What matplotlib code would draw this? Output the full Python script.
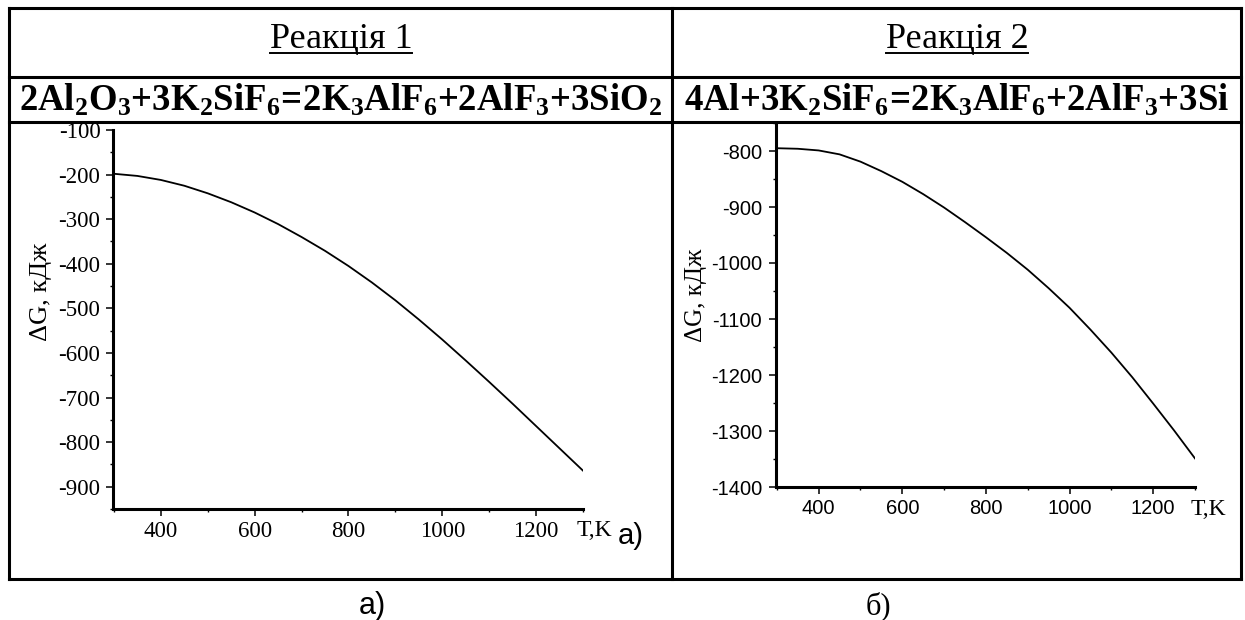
import matplotlib
matplotlib.use("Agg")
import matplotlib.pyplot as plt
from matplotlib.lines import Line2D
from matplotlib.ticker import MultipleLocator

plt.rcParams['axes.unicode_minus'] = False
plt.rcParams['mathtext.fontset'] = 'custom'
plt.rcParams['mathtext.rm'] = 'Liberation Serif'
plt.rcParams['mathtext.bf'] = 'Liberation Serif:bold'
plt.rcParams['mathtext.it'] = 'Liberation Serif:italic'

# ---------------- data ----------------
T = [298, 350, 400, 450, 500, 550, 600, 650, 700, 750, 800, 850, 900, 950,
     1000, 1050, 1100, 1150, 1200, 1250, 1300]
dG1 = [-198, -203, -212, -225, -242, -262, -285, -311, -340, -371, -405,
       -442, -482, -525, -570, -617, -665, -714, -764, -814, -864]
dG2 = [-795, -796, -799, -806, -819, -836, -855, -877, -901, -927, -954,
       -982, -1012, -1045, -1080, -1119, -1160, -1204, -1251, -1299, -1349]

titles = ["Реакція 1", "Реакція 2"]
equations = [
    r"$\mathbf{2Al_2O_3{+}3K_2SiF_6\!=\!2K_3AlF_6{+}2AlF_3{+}3SiO_2}$",
    r"$\mathbf{4Al{+}3K_2SiF_6\!=\!2K_3AlF_6{+}2AlF_3{+}3Si}$",
]
xticks = [400, 600, 800, 1000, 1200]
yticks1 = [-900, -800, -700, -600, -500, -400, -300, -200, -100]
yticks2 = [-1400, -1300, -1200, -1100, -1000, -900, -800]
ylabel = "ΔG, кДж"
xlabel = "T,K"
captions = ["а)", "б)"]

W, H = 1245, 620
fig = plt.figure(figsize=(W / 100, H / 100), dpi=100)


def fx(x):
    return x / W


def fy(y):
    return 1 - y / H


def hline(x0, x1, y, lw=2.2):
    fig.add_artist(Line2D([fx(x0), fx(x1)], [fy(y), fy(y)],
                          transform=fig.transFigure, color='black',
                          lw=lw, solid_capstyle='projecting', zorder=10))


def vline(x, y0, y1, lw=2.2):
    fig.add_artist(Line2D([fx(x), fx(x)], [fy(y0), fy(y1)],
                          transform=fig.transFigure, color='black',
                          lw=lw, solid_capstyle='projecting', zorder=10))


# ---------------- table frame ----------------
L, R, M = 9, 1241, 672
top, r1, r2, bot = 8, 77, 122, 579
for y in (top, r1, r2, bot):
    hline(L, R, y)
for x in (L, M, R):
    vline(x, top, bot)

# ---------------- axes ----------------
serif = 'Liberation Serif'
sans = 'Liberation Sans'
narrow = ['Liberation Sans Narrow', 'Liberation Sans']

ax1 = fig.add_axes([fx(113), fy(509), (583 - 113) / W, (509 - 130) / H])
ax2 = fig.add_axes([fx(776), fy(487), (1195 - 776) / W, (487 - 123) / H])

ax1.plot(T, dG1, color='black', lw=1.3)
ax2.plot(T, dG2, color='black', lw=1.3)

ax1.set_xlim(298, 1300)
ax1.set_ylim(-950, -100)
ax2.set_xlim(298, 1300)
ax2.set_ylim(-1400, -750)

for ax, yt, fam, size, ypad, xpad in ((ax1, yticks1, serif, 16.5, 4, 3.5),
                                      (ax2, yticks2, sans, 14.5, 5, 4)):
    ax.set_xticks(xticks)
    ax.set_yticks(yt)
    ax.xaxis.set_minor_locator(MultipleLocator(100))
    ax.yaxis.set_minor_locator(MultipleLocator(50))
    for s in ('top', 'right'):
        ax.spines[s].set_visible(False)
    for s in ('left', 'bottom'):
        ax.spines[s].set_linewidth(2.2)
    ax.tick_params(which='major', direction='out', length=5, width=1.1,
                   labelsize=size, labelfontfamily=fam)
    ax.tick_params(axis='y', which='major', pad=ypad)
    ax.tick_params(axis='x', which='major', pad=xpad)
    ax.tick_params(which='minor', direction='out', length=2.5, width=1.0)
    ax.patch.set_alpha(0)

# y labels
fig.text(fx(41), fy(292), ylabel, rotation=90, ha='center', va='center',
         fontsize=19, family=serif)
fig.text(fx(696), fy(295), ylabel, rotation=90, ha='center', va='center',
         fontsize=18, family=serif)

# x labels
fig.text(fx(577), fy(536), xlabel, ha='left', va='baseline',
         fontsize=17, family=serif)
fig.text(fx(618), fy(544), captions[0], ha='left', va='baseline',
         fontsize=21, family=narrow)
fig.text(fx(1191), fy(515), xlabel, ha='left', va='baseline',
         fontsize=17, family=serif)

# ---------------- header texts ----------------
fig.canvas.draw()
renderer = fig.canvas.get_renderer()
for xc, title, eq in ((341, titles[0], equations[0]),
                      (957, titles[1], equations[1])):
    t = fig.text(fx(xc), fy(48), title, ha='center', va='baseline',
                 fontsize=26, family=serif)
    bb = t.get_window_extent(renderer)
    yline = bb.y0 + 3  # pixel coords from bottom
    fig.add_artist(Line2D([bb.x0 / W, bb.x1 / W], [yline / H, yline / H],
                          transform=fig.transFigure, color='black', lw=1.4))
    fig.text(fx(xc), fy(111), eq, ha='center', va='baseline', fontsize=26.5)

# bottom captions
fig.text(fx(372), fy(614), captions[0], ha='center', va='baseline',
         fontsize=22, family=narrow)
fig.text(fx(878), fy(614), captions[1], ha='center', va='baseline',
         fontsize=22, family=serif)

fig.savefig("out.png", dpi=100)
